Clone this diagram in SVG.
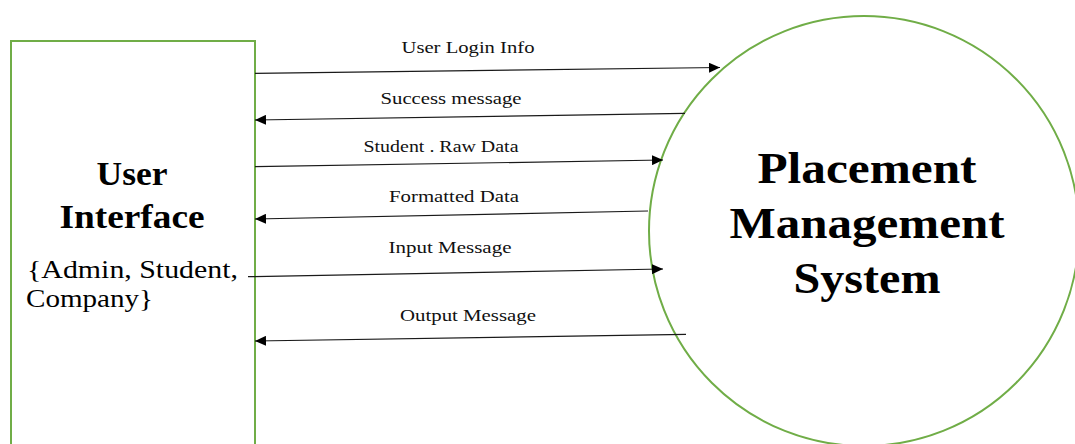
<svg xmlns="http://www.w3.org/2000/svg" width="1075" height="444" viewBox="0 0 1075 444">
<style>
.shape{fill:#fff;stroke:#70ad47;stroke-width:2}
.flow{stroke:#1a1a1a;stroke-width:1.2;fill:none;marker-end:url(#ah)}
.lbl{font-family:"Liberation Serif","Times New Roman",serif;font-size:16.5px;fill:#111;text-anchor:middle}
.big{font-family:"Liberation Serif","Times New Roman",serif;font-weight:bold;fill:#000;text-anchor:middle}
.sub{font-family:"Liberation Serif","Times New Roman",serif;font-size:25px;fill:#000}
</style>
<defs>
<marker id="ah" markerUnits="userSpaceOnUse" markerWidth="12" markerHeight="10" refX="11" refY="5" orient="auto">
<path d="M0,0 L11,5 L0,10 Z" fill="#000"/>
</marker>
</defs>
<rect width="1075" height="444" fill="#fff"/>
<g id="user-interface">
<rect class="shape" x="11" y="41" width="244" height="420"/>
<text class="big" x="132" y="185" font-size="33" textLength="71" lengthAdjust="spacingAndGlyphs">User</text>
<text class="big" x="132" y="228" font-size="33" textLength="145" lengthAdjust="spacingAndGlyphs">Interface</text>
<text class="sub" x="27" y="278" textLength="211" lengthAdjust="spacingAndGlyphs">{Admin, Student,</text>
<text class="sub" x="26" y="307" textLength="127" lengthAdjust="spacingAndGlyphs">Company}</text>
</g>
<g id="placement-management-system">
<circle class="shape" cx="864" cy="231" r="215"/>
<text class="big" x="867" y="183" font-size="45" textLength="219" lengthAdjust="spacingAndGlyphs">Placement</text>
<text class="big" x="867" y="238" font-size="45" textLength="275" lengthAdjust="spacingAndGlyphs">Management</text>
<text class="big" x="867" y="293" font-size="45" textLength="147" lengthAdjust="spacingAndGlyphs">System</text>
</g>
<g id="connectors">
<line class="flow" x1="255" y1="73.3" x2="720" y2="67.5"/>
<line class="flow" x1="685" y1="113.3" x2="255" y2="120"/>
<line class="flow" x1="255" y1="166.7" x2="663" y2="160"/>
<line class="flow" x1="648" y1="211" x2="255" y2="219"/>
<line class="flow" x1="248" y1="276.7" x2="663" y2="269"/>
<line class="flow" x1="686" y1="334.3" x2="255" y2="341"/>
<text class="lbl" x="468" y="52.5" textLength="133" lengthAdjust="spacingAndGlyphs">User Login Info</text>
<text class="lbl" x="451" y="104" textLength="141" lengthAdjust="spacingAndGlyphs">Success message</text>
<text class="lbl" x="441" y="152" textLength="155" lengthAdjust="spacingAndGlyphs">Student . Raw Data</text>
<text class="lbl" x="454" y="202" textLength="130" lengthAdjust="spacingAndGlyphs">Formatted Data</text>
<text class="lbl" x="450" y="253" textLength="123" lengthAdjust="spacingAndGlyphs">Input Message</text>
<text class="lbl" x="468" y="321" textLength="136" lengthAdjust="spacingAndGlyphs">Output Message</text>
</g>
</svg>
